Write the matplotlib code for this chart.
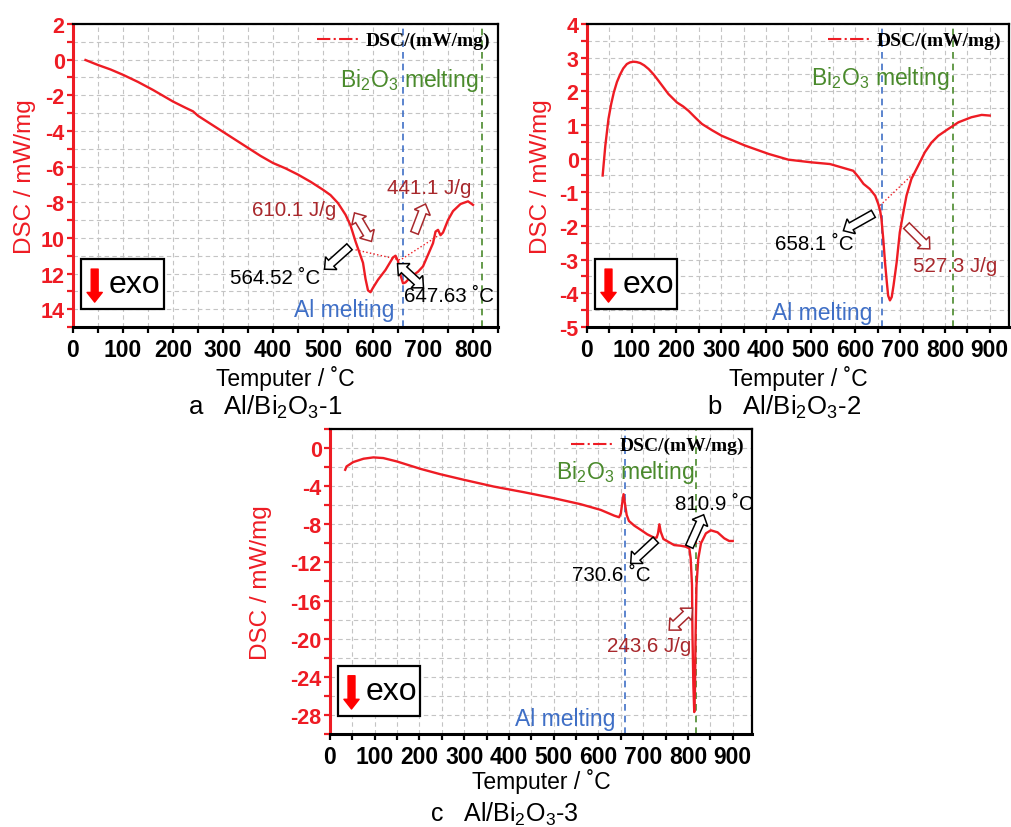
import numpy as np
import matplotlib.pyplot as plt
from matplotlib.lines import Line2D
from matplotlib.patches import Rectangle, Polygon
from matplotlib.transforms import IdentityTransform
from matplotlib.ticker import MultipleLocator, FixedLocator

plt.rcParams['font.family'] = ['Liberation Sans', 'DejaVu Sans']
plt.rcParams['mathtext.default'] = 'regular'
plt.rcParams['axes.unicode_minus'] = False

RED = '#ee1c24'
DARKRED = '#a8282c'
BLUE = '#3f6fc6'
GREEN = '#4a8a2c'

# ---- panel a : Al/Bi2O3-1 ----
a_temp = [25, 50, 75, 100, 130, 160, 200, 225, 240, 250, 275, 300, 325, 350, 375,
          400, 425, 450, 475, 500, 515, 530, 545, 555, 565, 575, 580, 585, 590, 595,
          600, 610, 625, 640, 645, 650, 655, 660, 665, 675, 690, 700, 710, 720, 725,
          730, 735, 740, 750, 760, 775, 790, 800]
a_dsc = [-0.02, -0.3, -0.55, -0.85, -1.25, -1.7, -2.35, -2.7, -2.9, -3.15, -3.6, -4.05,
         -4.5, -4.95, -5.4, -5.8, -6.1, -6.45, -6.85, -7.3, -7.6, -8.05, -8.7, -9.3,
         -10.2, -11.0, -11.4, -12.3, -12.95, -13.05, -12.8, -12.35, -11.8, -11.1, -11.0,
         -11.3, -12.1, -12.55, -12.5, -12.2, -11.9, -11.6, -10.95, -10.3, -9.65, -9.55,
         -9.85, -9.7, -9.0, -8.5, -8.1, -7.95, -8.15]
a_base_t = [565, 655, 729]
a_base_v = [-10.67, -11.24, -9.9]
a_yticks = [2, 0, -2, -4, -6, -8, -10, -12, -14]
a_ylabels = ['2', '0', '-2', '-4', '-6', '-8', '10', '12', '14']
a_xticks = [0, 100, 200, 300, 400, 500, 600, 700, 800]

# ---- panel b : Al/Bi2O3-2 ----
b_temp = [35, 41, 48, 54, 60, 67, 74, 81, 89, 96, 104, 111, 119, 128, 138, 149, 160,
          182, 201, 215, 227, 242, 257, 280, 301, 353, 406, 450, 502, 543, 569, 595,
          607, 618, 632, 644, 651, 655, 658, 662, 666, 670, 673, 677, 681, 685, 692,
          699, 707, 714, 725, 740, 755, 770, 785, 807, 830, 859, 882, 900]
b_dsc = [-0.5, 0.39, 1.18, 1.62, 1.97, 2.28, 2.5, 2.68, 2.81, 2.86, 2.88, 2.87, 2.84,
         2.77, 2.66, 2.5, 2.31, 1.92, 1.67, 1.55, 1.42, 1.22, 1.03, 0.84, 0.68, 0.39,
         0.14, -0.03, -0.11, -0.16, -0.26, -0.36, -0.55, -0.75, -0.9, -1.1, -1.35,
         -1.54, -1.79, -2.38, -3.08, -3.67, -4.07, -4.21, -4.11, -3.77, -3.08, -2.19,
         -1.59, -1.1, -0.6, -0.21, 0.19, 0.48, 0.68, 0.88, 1.08, 1.23, 1.3, 1.28]
b_base_t = [655, 733]
b_base_v = [-1.39, -0.4]
b_yticks = [4, 3, 2, 1, 0, -1, -2, -3, -4, -5]
b_ylabels = ['4', '3', '2', '1', '0', '-1', '-2', '-3', '-4', '-5']
b_xticks = [0, 100, 200, 300, 400, 500, 600, 700, 800, 900]

# ---- panel c : Al/Bi2O3-3 ----
c_temp = [34, 37, 52, 75, 97, 119, 149, 202, 246, 299, 366, 433, 500, 560, 605, 635,
          646, 650, 653, 656, 659, 663, 668, 680, 695, 709, 724, 730, 733, 736, 739,
          745, 758, 769, 784, 795, 803, 806, 809, 810, 812, 814, 815.5, 817, 819, 823,
          829, 840, 851, 866, 881, 892, 900]
c_dsc = [-2.28, -1.93, -1.47, -1.12, -0.98, -1.05, -1.4, -2.18, -2.74, -3.33, -4.04,
         -4.63, -5.26, -5.89, -6.49, -7.09, -7.26, -6.84, -5.79, -4.84, -5.79, -7.02,
         -7.65, -8.14, -8.6, -9.05, -9.4, -9.4, -8.95, -8.0, -8.77, -9.54, -9.89,
         -10.18, -10.25, -10.35, -10.53, -11.58, -14.4, -19.6, -24.9, -27.7, -25.6,
         -19.6, -14.4, -11.6, -10.0, -8.95, -8.63, -8.84, -9.47, -9.75, -9.75]
c_base_t = [810, 829]
c_base_v = [-10.2, -9.75]
c_yticks = [0, -4, -8, -12, -16, -20, -24, -28]
c_ylabels = ['0', '-4', '-8', '-12', '-16', '-20', '-24', '-28']
c_xticks = b_xticks

BI2O3 = 'Bi$_{2}$O$_{3}$ melting'
ANN = 14.8
MELT = 16.5


def setup(ax, xmax, xticks, ylim, yticks, ylabels, yminor, ylpad):
    ax.set_xlim(0, xmax)
    ax.set_ylim(*ylim)
    ax.xaxis.set_major_locator(FixedLocator(xticks))
    ax.xaxis.set_minor_locator(MultipleLocator(50))
    ax.set_yticks(yticks)
    ax.set_yticklabels(ylabels)
    ax.yaxis.set_minor_locator(MultipleLocator(yminor))
    ax.grid(True, which='both', color='#c4c4c4', ls=(0, (4, 3)), lw=0.8)
    ax.set_axisbelow(True)
    for s in ['top', 'right']:
        ax.spines[s].set_linewidth(1.6)
    ax.spines['bottom'].set_linewidth(2.2)
    ax.spines['left'].set_linewidth(2.2)
    ax.spines['left'].set_color(RED)
    ax.tick_params(axis='x', which='both', direction='out', length=4, width=1.6,
                   labelsize=16.5, pad=4)
    ax.tick_params(axis='y', which='both', direction='out', length=4, width=1.6,
                   color=RED, labelcolor=RED, labelsize=15.5, pad=2)
    for lab in ax.get_xticklabels() + ax.get_yticklabels():
        lab.set_fontweight('bold')
    ax.set_xlabel('Temputer / ˚C', fontsize=16.5, labelpad=3)
    ax.set_ylabel('DSC / mW/mg', fontsize=17.5, color=RED, labelpad=ylpad)
    h = Line2D([], [], color=RED, ls='-.', lw=1.5)
    ax.legend(handles=[h], labels=['DSC/(mW/mg)'], loc='upper right', frameon=False,
              prop=dict(family='Liberation Serif', weight='bold', size=14),
              handlelength=2.2, borderaxespad=0.1, borderpad=0.3, handletextpad=0.3)
    ax.axvline(660, color=BLUE, ls=(0, (4, 3)), lw=1.2)
    ax.axvline(817, color=GREEN, ls=(0, (4, 3)), lw=1.2)
    # exo box
    ax.add_patch(Rectangle((0.018, 0.059), 0.196, 0.165, transform=ax.transAxes,
                           fill=True, fc='white', ec='black', lw=1.6, zorder=5))
    ax.annotate('', xy=(0.051, 0.082), xytext=(0.051, 0.191), xycoords='axes fraction',
                arrowprops=dict(arrowstyle='simple,head_width=1.1,head_length=0.7,tail_width=0.5',
                                fc='red', ec='red', shrinkA=0, shrinkB=0), zorder=6)
    ax.text(0.085, 0.141, 'exo', transform=ax.transAxes, fontsize=23, va='center',
            ha='left', zorder=6)


def hollow(ax, tail, head, ec='black', double=False, tw=4.0, hw=8.5, hl=9.0):
    # block arrow drawn in pixel space so it keeps its shape
    p0 = ax.transData.transform(tail)
    p1 = ax.transData.transform(head)
    u = (p1 - p0) / np.hypot(*(p1 - p0))
    n = np.array([-u[1], u[0]])
    pts = [p1, p1 - u * hl + n * hw, p1 - u * hl + n * tw]
    if double:
        pts += [p0 + u * hl + n * tw, p0 + u * hl + n * hw, p0,
                p0 + u * hl - n * hw, p0 + u * hl - n * tw]
    else:
        pts += [p0 + n * tw, p0 - n * tw]
    pts += [p1 - u * hl - n * tw, p1 - u * hl - n * hw]
    ax.add_patch(Polygon(pts, closed=True, fc='white', ec=ec, lw=1.1,
                         transform=IdentityTransform(), clip_on=False, zorder=4))


fig = plt.figure(figsize=(10.11, 8.28), dpi=100)

# panel a
ax = fig.add_axes([0.0722, 0.6039, 0.4204, 0.3659])
setup(ax, 850, a_xticks, (-15, 2), a_yticks, a_ylabels, 1, 3)
ax.plot(a_temp, a_dsc, color=RED, lw=1.7)
ax.plot(a_base_t, a_base_v, color=RED, ls=':', lw=1.0)
ax.text(443, -8.4, '610.1 J/g', color=DARKRED, fontsize=ANN, ha='center', va='center')
ax.text(713, -7.2, '441.1 J/g', color=DARKRED, fontsize=ANN, ha='center', va='center')
ax.text(405, -12.2, '564.52 ˚C', fontsize=ANN, ha='center', va='center')
ax.text(752, -13.25, '647.63 ˚C', fontsize=ANN, ha='center', va='center')
ax.text(542, -14.0, 'Al melting', color=BLUE, fontsize=MELT, ha='center', va='center')
ax.text(673, -1.1, BI2O3, color=GREEN, fontsize=MELT, ha='center', va='center')
hollow(ax, (597, -10.2), (563, -8.6), ec=DARKRED, double=True)
hollow(ax, (683, -9.72), (705, -8.1), ec=DARKRED)
hollow(ax, (553, -10.5), (503, -11.76))
hollow(ax, (649, -11.45), (701, -12.8), double=True)

# panel b
ax = fig.add_axes([0.5806, 0.6039, 0.4174, 0.3659])
setup(ax, 943, b_xticks, (-5, 4), b_yticks, b_ylabels, 0.5, 5)
ax.plot(b_temp, b_dsc, color=RED, lw=1.7)
ax.plot(b_base_t, b_base_v, color=RED, ls=':', lw=1.0)
ax.text(656, 2.41, BI2O3, color=GREEN, fontsize=MELT, ha='center', va='center')
ax.text(507, -2.53, '658.1 ˚C', fontsize=ANN, ha='center', va='center')
ax.text(822, -3.18, '527.3 J/g', color=DARKRED, fontsize=ANN, ha='center', va='center')
ax.text(526, -4.56, 'Al melting', color=BLUE, fontsize=MELT, ha='center', va='center')
hollow(ax, (640, -1.64), (573, -2.14))
hollow(ax, (714, -1.99), (766, -2.68), ec=DARKRED)

# panel c
ax = fig.add_axes([0.3264, 0.1123, 0.4174, 0.3684])
setup(ax, 943, c_xticks, (-30, 2), c_yticks, c_ylabels, 2, 13)
ax.xaxis.labelpad = 0
ax.plot(c_temp, c_dsc, color=RED, lw=1.7)
ax.plot(c_base_t, c_base_v, color=RED, ls=':', lw=1.0)
ax.text(659, -2.46, BI2O3, color=GREEN, fontsize=MELT, ha='center', va='center')
ax.text(859, -5.8, '810.9 ˚C', fontsize=ANN, ha='center', va='center')
ax.text(629, -13.3, '730.6 ˚C', fontsize=ANN, ha='center', va='center')
ax.text(713, -20.7, '243.6 J/g', color=DARKRED, fontsize=ANN, ha='center', va='center')
ax.text(526, -28.4, 'Al melting', color=BLUE, fontsize=MELT, ha='center', va='center')
hollow(ax, (803, -10.35), (835, -7.0))
hollow(ax, (728, -9.65), (672, -12.1))
hollow(ax, (810, -16.8), (758, -19.1), ec=DARKRED, double=True)

fig.text(0.262, 0.508, 'a   Al/Bi$_{2}$O$_{3}$-1', ha='center', va='center', fontsize=18.5)
fig.text(0.776, 0.508, 'b   Al/Bi$_{2}$O$_{3}$-2', ha='center', va='center', fontsize=18.5)
fig.text(0.499, 0.017, 'c   Al/Bi$_{2}$O$_{3}$-3', ha='center', va='center', fontsize=18)

fig.savefig('out.png', dpi=100)
